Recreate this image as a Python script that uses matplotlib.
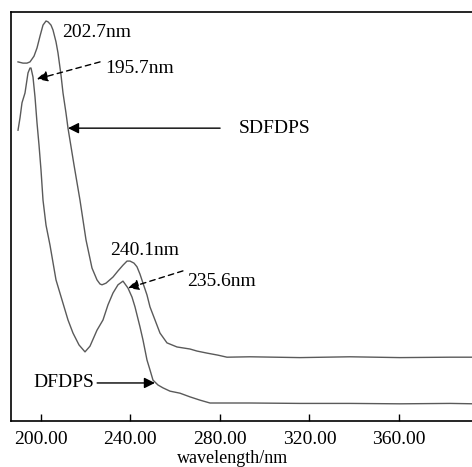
import matplotlib
matplotlib.use('Agg')
import matplotlib.pyplot as plt

# UV spectra (wavelength in nm, absorbance in arbitrary units)
SDFDPS_NM = [189.87, 192.10, 193.88, 195.22, 197.01, 198.35, 199.69, 201.03, 202.37, 203.26,
             204.60, 205.49, 206.83, 207.72, 209.06, 209.96, 211.29, 212.19, 214.87, 217.54,
             220.22, 222.90, 225.13, 226.47, 227.37, 229.15, 232.28, 234.51, 236.74, 238.53,
             239.87, 241.65, 242.99, 244.33, 245.67, 247.46, 248.79, 251.03, 253.26, 256.38,
             260.85, 266.65, 269.78, 274.24, 279.15, 283.17, 293.44, 315.76, 338.08, 360.40,
             382.72, 393.88]
SDFDPS_ABS = [0.878, 0.875, 0.875, 0.878, 0.892, 0.912, 0.941, 0.968, 0.978, 0.976,
              0.968, 0.956, 0.927, 0.900, 0.846, 0.802, 0.753, 0.716, 0.626, 0.540,
              0.443, 0.374, 0.345, 0.335, 0.333, 0.337, 0.352, 0.367, 0.381, 0.391,
              0.391, 0.386, 0.377, 0.359, 0.337, 0.308, 0.279, 0.247, 0.215, 0.191,
              0.181, 0.176, 0.171, 0.166, 0.161, 0.156, 0.157, 0.155, 0.157, 0.155,
              0.156, 0.156]

DFDPS_NM = [189.87, 190.76, 191.65, 192.99, 194.33, 195.22, 195.67, 196.56, 197.46, 198.35,
            199.24, 200.13, 201.03, 202.37, 204.15, 206.83, 209.51, 212.19, 214.42, 217.10,
            219.78, 222.01, 225.13, 227.81, 230.04, 232.28, 234.51, 236.74, 238.97, 240.76,
            242.10, 244.33, 245.67, 247.46, 248.79, 250.13, 252.37, 254.60, 257.72, 262.19,
            266.65, 271.12, 275.58, 293.44, 315.76, 338.08, 360.40, 382.72, 393.88]
DFDPS_ABS = [0.711, 0.741, 0.778, 0.802, 0.851, 0.863, 0.863, 0.841, 0.792, 0.729,
             0.675, 0.614, 0.540, 0.479, 0.430, 0.345, 0.296, 0.247, 0.215, 0.186,
             0.169, 0.183, 0.222, 0.247, 0.284, 0.313, 0.333, 0.342, 0.325, 0.303,
             0.279, 0.230, 0.198, 0.149, 0.125, 0.100, 0.088, 0.081, 0.073, 0.068,
             0.059, 0.051, 0.044, 0.044, 0.043, 0.043, 0.042, 0.043, 0.042]

XTICKS = [200, 240, 280, 320, 360]
XTICK_LABELS = ['200.00', '240.00', '280.00', '320.00', '360.00']

# Peak labels: text, text position, arrow tail, arrow tip (None = no arrow)
PEAK_LABELS = [
    ('202.7nm', (209.5, 0.951), None, None),
    ('195.7nm', (228.7, 0.861), (226.5, 0.878), (198.3, 0.836)),
    ('240.1nm', (230.9, 0.416), None, None),
    ('235.6nm', (265.4, 0.342), (263.5, 0.367), (239.0, 0.325)),
]

# Curve name labels: text, text position, arrow tail, arrow tip
CURVE_LABELS = [
    ('SDFDPS', (288.6, 0.716), (280.1, 0.716), (212.2, 0.716)),
    ('DFDPS', (196.6, 0.093), (225.2, 0.093), (251.0, 0.093)),
]

plt.rcParams['font.family'] = ['Liberation Serif', 'DejaVu Serif']
plt.rcParams['font.size'] = 14

figure = plt.figure(figsize=(4.72, 4.67), dpi=100)
ax = figure.add_axes([11 / 472, 46 / 467, 464 / 472, 409 / 467])

line_color = '#5a5a5a'
ax.plot(SDFDPS_NM, SDFDPS_ABS, color=line_color, lw=1.0)
ax.plot(DFDPS_NM, DFDPS_ABS, color=line_color, lw=1.0)

ax.set_xlim(186.74, 393.9)
ax.set_ylim(0, 1)

# Annotations
for text, pos, tail, tip in PEAK_LABELS:
    ax.text(pos[0], pos[1], text, ha='left', va='center')
    if tip is not None:
        ax.annotate('', xy=tip, xytext=tail,
                    arrowprops=dict(arrowstyle='-|>', mutation_scale=16, lw=1.0,
                                    color='black', linestyle=(0, (4, 3)),
                                    shrinkA=0, shrinkB=0))

for text, pos, tail, tip in CURVE_LABELS:
    ax.text(pos[0], pos[1], text, ha='left', va='center')
    ax.annotate('', xy=tip, xytext=tail,
                arrowprops=dict(arrowstyle='-|>', mutation_scale=16, lw=1.0,
                                color='black', shrinkA=0, shrinkB=0))

# Axis formatting
ax.set_xticks(XTICKS)
ax.set_xticklabels(XTICK_LABELS)
ax.set_yticks([])
ax.tick_params(axis='x', direction='in', length=5, width=1, pad=7)
ax.spines['right'].set_visible(False)
for side in ['left', 'top', 'bottom']:
    ax.spines[side].set_linewidth(1.2)
ax.set_xlabel('wavelength/nm', fontsize=13)
ax.xaxis.set_label_coords(0.477, -0.0905, transform=ax.transAxes)
ax.xaxis.label.set_va('center')

plt.savefig('out.png', dpi=100)
plt.close()
